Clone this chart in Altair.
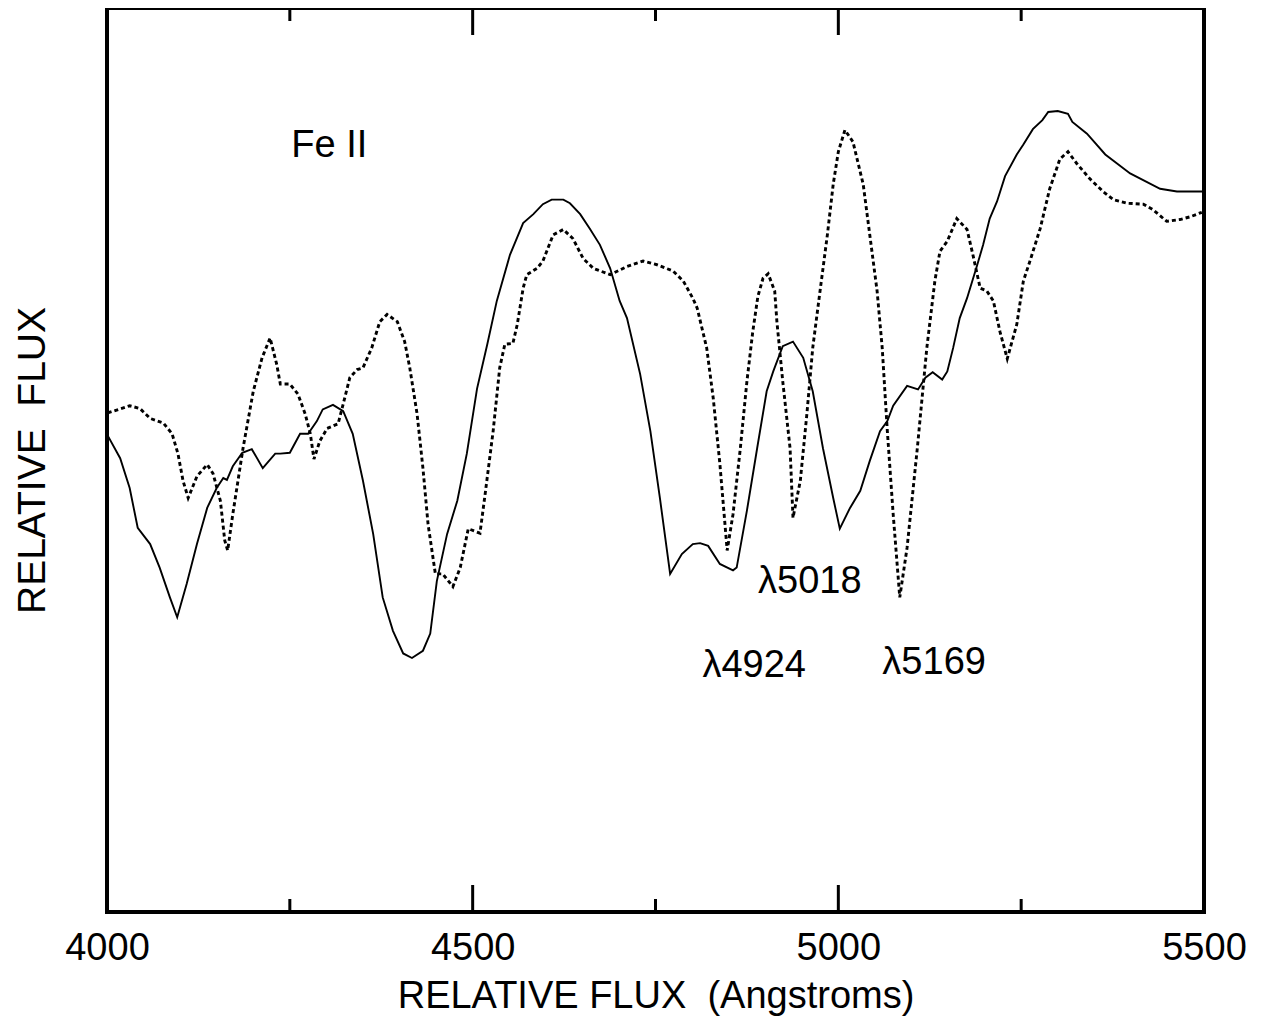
import altair as alt
import pandas as pd

# Solid spectrum (wavelength in Angstroms, relative flux in arbitrary units)
solid_wl = [4001, 4018, 4031, 4042, 4059, 4072, 4086, 4096, 4109, 4123, 4137, 4150, 4159, 4164,
            4172, 4185, 4198, 4213, 4230, 4237, 4250, 4264, 4275, 4287, 4295, 4309, 4323, 4336,
            4350, 4364, 4377, 4391, 4405, 4417, 4432, 4442, 4451, 4465, 4479, 4492, 4506, 4520,
            4533, 4551, 4569, 4583, 4596, 4608, 4624, 4633, 4647, 4660, 4674, 4688, 4701, 4711,
            4729, 4743, 4756, 4770, 4786, 4801, 4811, 4822, 4838, 4856, 4861, 4875, 4889, 4902,
            4911, 4924, 4938, 4952, 4965, 4979, 4993, 5002, 5016, 5030, 5043, 5057, 5067, 5075,
            5094, 5109, 5119, 5129, 5142, 5149, 5157, 5166, 5176, 5190, 5198, 5207, 5217, 5228,
            5244, 5253, 5266, 5279, 5287, 5300, 5314, 5320, 5340, 5365, 5399, 5440, 5463, 5499]
solid_flux = [52.7, 50.2, 46.9, 42.5, 40.7, 38.1, 34.8, 32.6, 36.3, 40.7, 44.7, 46.9, 48.0, 47.8,
              49.3, 50.8, 51.2, 49.1, 50.7, 50.7, 50.8, 52.9, 52.9, 54.3, 55.6, 56.1, 55.4, 52.9,
              47.7, 41.8, 34.8, 31.1, 28.6, 28.1, 28.9, 30.8, 36.6, 41.8, 45.5, 50.7, 57.9, 62.8,
              67.6, 72.7, 76.2, 77.2, 78.3, 78.8, 78.8, 78.4, 77.2, 75.6, 73.8, 71.2, 67.6, 65.7,
              59.5, 53.2, 45.8, 37.4, 39.6, 40.7, 40.8, 40.5, 38.5, 37.8, 38.1, 44.4, 51.3, 57.6,
              59.8, 62.6, 63.1, 61.3, 57.6, 51.3, 45.8, 42.4, 44.7, 46.6, 49.9, 53.2, 54.3, 56.0,
              58.2, 57.8, 59.1, 59.7, 58.9, 59.8, 62.4, 65.7, 67.9, 71.6, 73.8, 76.7, 78.6, 81.4,
              83.8, 84.9, 86.6, 87.6, 88.5, 88.6, 88.3, 87.4, 86.1, 83.8, 81.7, 80.0, 79.7, 79.7]

# Dashed spectrum
dashed_wl = [4001, 4031, 4045, 4059, 4077, 4089, 4097, 4104, 4111, 4123, 4137, 4145, 4155, 4161,
             4165, 4172, 4186, 4200, 4212, 4223, 4232, 4237, 4250, 4261, 4271, 4278, 4283, 4291,
             4301, 4316, 4323, 4332, 4342, 4350, 4362, 4373, 4383, 4397, 4407, 4414, 4424, 4432,
             4439, 4449, 4459, 4473, 4483, 4494, 4510, 4517, 4528, 4537, 4544, 4555, 4561, 4569,
             4574, 4588, 4596, 4610, 4624, 4637, 4651, 4665, 4688, 4711, 4733, 4752, 4774, 4788,
             4801, 4807, 4820, 4829, 4838, 4848, 4856, 4866, 4875, 4883, 4890, 4897, 4904, 4913,
             4916, 4924, 4934, 4938, 4948, 4957, 4965, 4975, 4985, 4993, 5000, 5009, 5020, 5034,
             5043, 5053, 5060, 5067, 5075, 5084, 5094, 5108, 5121, 5132, 5139, 5149, 5162, 5176,
             5184, 5194, 5203, 5212, 5221, 5231, 5244, 5253, 5262, 5276, 5289, 5303, 5314, 5326,
             5344, 5362, 5376, 5395, 5417, 5430, 5449, 5467, 5481, 5497]
dashed_flux = [55.2, 56.0, 55.7, 54.6, 54.1, 52.9, 50.7, 47.7, 45.8, 48.2, 49.5, 48.5, 45.5, 41.1,
               40.0, 44.0, 51.3, 57.6, 61.3, 63.5, 60.6, 58.4, 58.4, 57.3, 55.1, 52.9, 50.1, 52.1,
               53.5, 54.0, 56.2, 59.1, 60.0, 60.2, 62.4, 65.3, 66.1, 65.3, 63.1, 60.2, 55.1, 49.1,
               42.9, 37.4, 37.4, 36.0, 38.1, 42.4, 41.9, 46.2, 53.2, 60.2, 62.8, 62.9, 65.0, 69.0,
               70.5, 71.2, 72.0, 74.9, 75.5, 74.5, 72.3, 71.2, 70.5, 71.4, 72.0, 71.6, 70.9, 69.8,
               67.9, 66.8, 62.4, 56.8, 49.6, 40.0, 44.0, 51.3, 58.7, 64.2, 68.1, 70.1, 70.6, 68.7,
               65.3, 58.7, 51.3, 43.6, 47.7, 55.1, 62.4, 68.7, 74.9, 80.5, 84.1, 86.5, 85.2, 80.5,
               74.9, 68.7, 62.4, 53.2, 44.0, 34.8, 40.3, 51.3, 62.4, 69.8, 73.1, 74.2, 76.7, 75.5,
               72.7, 69.0, 68.7, 67.6, 64.2, 61.2, 65.0, 69.8, 72.0, 75.6, 80.0, 83.3, 84.1, 82.8,
               81.1, 79.7, 78.8, 78.4, 78.3, 77.7, 76.4, 76.6, 76.9, 77.4]

# Annotations
ann_text = ["Fe II", "\u03bb5018", "\u03bb4924", "\u03bb5169"]
ann_wl = [4304, 4961, 4885, 5131]
ann_flux = [84.7, 36.5, 27.2, 27.5]

# Axis ticks
label_ticks = [4000, 4500, 5000, 5500]
major_ticks = [4500, 5000]
minor_ticks = [4250, 4750, 5250]

W, H = 1097, 904
FONT = "Liberation Sans"
FS = 38

xscale = alt.Scale(domain=[4000, 5500], nice=False, zero=False)
yscale = alt.Scale(domain=[0, 100], nice=False, zero=False)

solid_df = pd.DataFrame({"wl": solid_wl, "flux": solid_flux})
dashed_df = pd.DataFrame({"wl": dashed_wl, "flux": dashed_flux})
ann_df = pd.DataFrame({"wl": ann_wl, "flux": ann_flux, "text": ann_text})
major_df = pd.DataFrame({"wl": major_ticks})
minor_df = pd.DataFrame({"wl": minor_ticks})
frame_df = pd.DataFrame({"wl": [4000]})

xaxis = alt.Axis(values=label_ticks, labelFontSize=FS, labelFont=FONT, labelColor="black",
                 ticks=False, domain=False, grid=False, labelPadding=17, labelFlush=False,
                 labelOverlap=False, title="RELATIVE FLUX\u00a0\u00a0(Angstroms)",
                 titleFont=FONT, titleFontSize=FS, titleFontWeight="normal",
                 titleColor="black", titlePadding=10, format="d")
yaxis = alt.Axis(labels=False, ticks=False, domain=False, grid=False,
                 title="RELATIVE\u00a0\u00a0FLUX", titleFont=FONT, titleFontSize=FS + 1,
                 titleFontWeight="normal", titleColor="black", titlePadding=55)

solid = alt.Chart(solid_df).mark_line(color="black", strokeWidth=1.9).encode(
    x=alt.X("wl:Q", scale=xscale, axis=xaxis),
    y=alt.Y("flux:Q", scale=yscale, axis=yaxis),
)
dashed = alt.Chart(dashed_df).mark_line(color="black", strokeWidth=2.9, strokeDash=[4, 3]).encode(
    x=alt.X("wl:Q", scale=xscale),
    y=alt.Y("flux:Q", scale=yscale),
)
text = alt.Chart(ann_df).mark_text(font=FONT, fontSize=FS, color="black",
                                   align="center", baseline="middle").encode(
    x=alt.X("wl:Q", scale=xscale),
    y=alt.Y("flux:Q", scale=yscale),
    text="text:N",
)

frame = alt.Chart(frame_df).mark_rect(fill=None, fillOpacity=0, stroke="black", strokeWidth=4).encode(
    x=alt.value(0), x2=alt.value(W), y=alt.value(0), y2=alt.value(H)
)


def tick_layer(df, length):
    bottom = alt.Chart(df).mark_rule(color="black", strokeWidth=3).encode(
        x=alt.X("wl:Q", scale=xscale), y=alt.value(H), y2=alt.value(H - length))
    top = alt.Chart(df).mark_rule(color="black", strokeWidth=3).encode(
        x=alt.X("wl:Q", scale=xscale), y=alt.value(0), y2=alt.value(length))
    return bottom + top


chart = alt.layer(
    tick_layer(major_df, 27),
    tick_layer(minor_df, 13),
    solid,
    dashed,
    text,
    frame,
).properties(
    width=W, height=H,
    autosize=alt.AutoSizeParams(type="none"),
    padding={"left": 99, "top": 0, "right": 50, "bottom": 110},
    background="white",
).configure_view(stroke=None)

chart.save("out.html", embed_options={"renderer": "svg", "actions": False})
